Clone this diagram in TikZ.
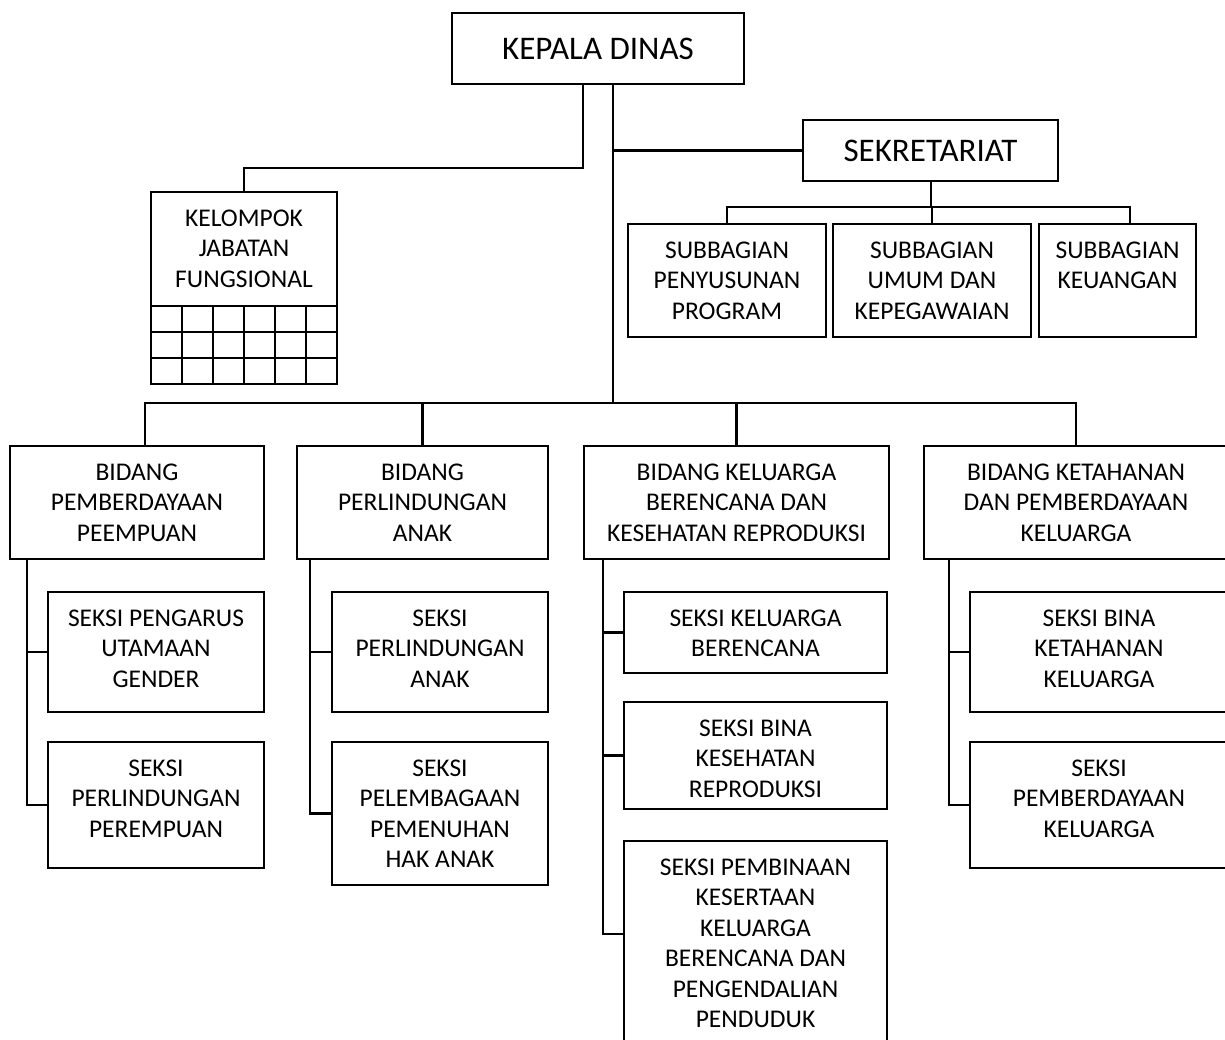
\documentclass[tikz,border=0pt]{standalone}
\usepackage{fontspec}
\setmainfont{Carlito}
\usetikzlibrary{positioning}

% text set from the top of a box of given width and height
\newcommand{\boxlines}[3]{\parbox[c][#2][t]{#1}{\centering\rule{0pt}{34pt}#3}}

\begin{document}
\begin{tikzpicture}[x=1pt, y=-1pt, line width=2.6pt,
  unit/.style={draw, anchor=north west, inner sep=0pt, outer sep=0pt, font=\fontsize{25.5}{30.5}\selectfont},
  head/.style={draw, anchor=north west, inner sep=0pt, outer sep=0pt, font=\fontsize{33}{38}\selectfont},
  link/.style={line width=2pt}]
\clip (0,0) rectangle (1225,1039);

\node (kepala) [head, minimum width=292pt, minimum height=71pt] at (452,13) {KEPALA DINAS};
\node (sekr) [head, minimum width=255pt, minimum height=61pt] at (803,120) {SEKRETARIAT};

\node (kel) [unit] at (151,192) {\boxlines{186pt}{114pt}{KELOMPOK\\JABATAN\\FUNGSIONAL}};
\foreach \c in {0,...,5}
  \foreach \r in {0,1,2}
    \draw[link] (kel.south west) ++(\c*31,\r*26) rectangle ++(31,26);

\node (sub1) [unit] at (628,224) {\boxlines{198pt}{113pt}{SUBBAGIAN\\PENYUSUNAN\\PROGRAM}};
\node (sub2) [unit, right=7pt of sub1] {\boxlines{198pt}{113pt}{SUBBAGIAN\\UMUM DAN\\KEPEGAWAIAN}};
\node (sub3) [unit, right=8pt of sub2] {\boxlines{157pt}{113pt}{SUBBAGIAN\\KEUANGAN}};

\node (bid1) [unit] at (10,446) {\boxlines{254pt}{113pt}{BIDANG\\PEMBERDAYAAN\\PEEMPUAN}};
\node (bid2) [unit, right=33pt of bid1] {\boxlines{251pt}{113pt}{BIDANG\\PERLINDUNGAN\\ANAK}};
\node (bid3) [unit, right=36pt of bid2] {\boxlines{305pt}{113pt}{BIDANG KELUARGA\\BERENCANA DAN\\KESEHATAN REPRODUKSI}};
\node (bid4) [unit, right=35pt of bid3] {\boxlines{304pt}{113pt}{BIDANG KETAHANAN\\DAN PEMBERDAYAAN\\KELUARGA}};

\node (s11) [unit] at (48,592) {\boxlines{216pt}{120pt}{SEKSI PENGARUS\\UTAMAAN\\GENDER}};
\node (s12) [unit, below=30pt of s11] {\boxlines{216pt}{126pt}{SEKSI\\PERLINDUNGAN\\PEREMPUAN}};
\node (s21) [unit] at (332,592) {\boxlines{216pt}{120pt}{SEKSI\\PERLINDUNGAN\\ANAK}};
\node (s22) [unit, below=30pt of s21] {\boxlines{216pt}{143pt}{SEKSI\\PELEMBAGAAN\\PEMENUHAN\\HAK ANAK}};
\node (s31) [unit] at (624,592) {\boxlines{263pt}{81pt}{SEKSI KELUARGA\\BERENCANA}};
\node (s32) [unit, below=29pt of s31] {\boxlines{263pt}{107pt}{SEKSI BINA\\KESEHATAN\\REPRODUKSI}};
\node (s33) [unit, below=32pt of s32] {\boxlines{263pt}{210pt}{SEKSI PEMBINAAN\\KESERTAAN\\KELUARGA\\BERENCANA DAN\\PENGENDALIAN\\PENDUDUK}};
\node (s41) [unit] at (970,592) {\boxlines{258pt}{120pt}{SEKSI BINA\\KETAHANAN\\KELUARGA}};
\node (s42) [unit, below=30pt of s41] {\boxlines{258pt}{126pt}{SEKSI\\PEMBERDAYAAN\\KELUARGA}};

% trunk and top level
\coordinate (hub) at (613,403);
\draw ([xshift=15pt]kepala.south) -- (hub);
\draw[link] ([xshift=-15pt]kepala.south) -- ++(0,84) -| (kel.north);
\draw (sekr.west) -- (sekr.west -| hub);
\foreach \s/\dx in {sub1/0,sub2/0,sub3/12}
  \draw[link] (sekr.south) -- ++(0,26) -| ([xshift=\dx pt]\s.north);
\foreach \b/\dx in {bid1/8,bid2/0,bid3/0,bid4/0}
  \draw (hub) -| ([xshift=\dx pt]\b.north);

% seksi under each bidang
\coordinate (sp1) at ([xshift=17pt]bid1.south west);
\coordinate (sp2) at ([xshift=13pt]bid2.south west);
\coordinate (sp3) at ([xshift=19pt]bid3.south west);
\coordinate (sp4) at ([xshift=25pt]bid4.south west);
\draw (sp1) |- (s12.west);
\draw (s11.west) -- (s11.west -| sp1);
\draw (sp2) |- (s22.west);
\draw (s21.west) -- (s21.west -| sp2);
\draw (sp3) |- ([yshift=12pt]s33.west);
\draw (s31.west) -- (s31.west -| sp3);
\draw (s32.west) -- (s32.west -| sp3);
\draw (sp4) |- (s42.west);
\draw (s41.west) -- (s41.west -| sp4);
\end{tikzpicture}
\end{document}
